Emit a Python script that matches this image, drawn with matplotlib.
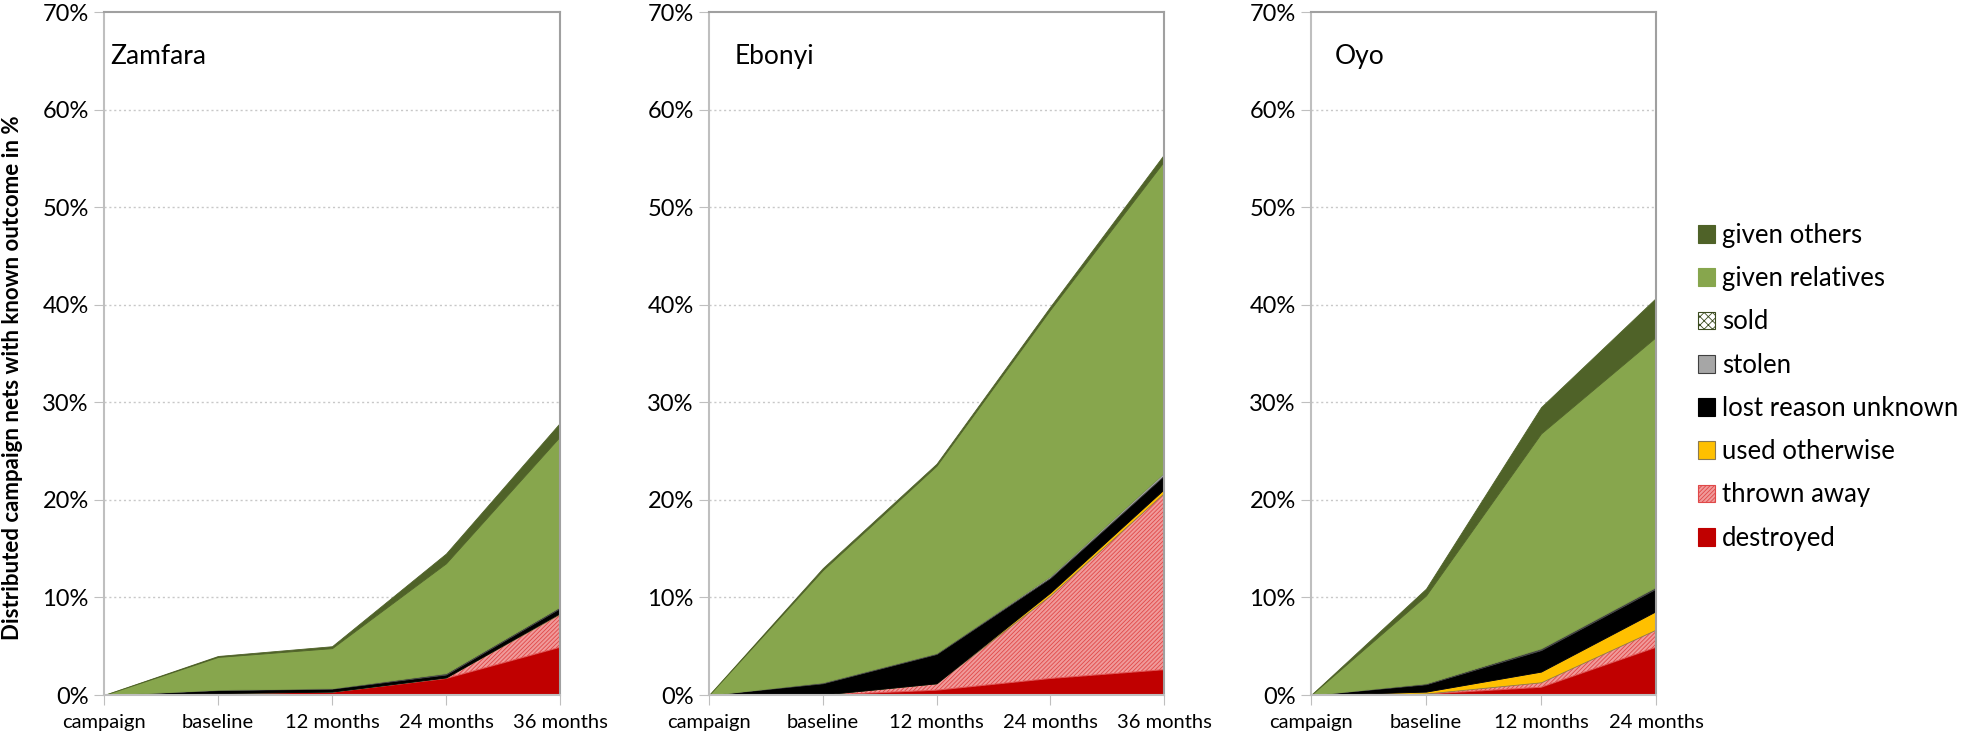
import numpy as np
import matplotlib
matplotlib.use('Agg')
import matplotlib.pyplot as plt
from matplotlib.patches import Patch
from matplotlib.ticker import PercentFormatter

plt.rcParams['font.family'] = ['Lato', 'DejaVu Sans']
plt.rcParams['hatch.linewidth'] = 0.6

# --- Data (share of distributed nets, %) ---
categories = ['campaign', 'baseline', '12 months', '24 months', '36 months']
regions = ['Zamfara', 'Ebonyi', 'Oyo']
layers = ['destroyed', 'thrown away', 'used otherwise', 'lost reason unknown',
          'stolen', 'sold', 'given relatives', 'given others']

# values per layer (not stacked), one entry per survey round
zamfara = {
    'destroyed':           [0, 0.2, 0.3, 1.7, 4.9],
    'thrown away':         [0, 0.0, 0.05, 0.1, 3.4],
    'used otherwise':      [0, 0.0, 0.0, 0.0, 0.1],
    'lost reason unknown': [0, 0.3, 0.3, 0.3, 0.5],
    'stolen':              [0, 0.05, 0.05, 0.1, 0.1],
    'sold':                [0, 0.0, 0.0, 0.05, 0.05],
    'given relatives':     [0, 3.35, 4.1, 11.25, 17.45],
    'given others':        [0, 0.1, 0.2, 1.0, 1.4],
}
ebonyi = {
    'destroyed':           [0, 0.0, 0.5, 1.7, 2.6],
    'thrown away':         [0, 0.05, 0.7, 8.5, 18.1],
    'used otherwise':      [0, 0.0, 0.0, 0.3, 0.4],
    'lost reason unknown': [0, 1.15, 3.0, 1.5, 1.4],
    'stolen':              [0, 0.1, 0.1, 0.2, 0.3],
    'sold':                [0, 0.0, 0.0, 0.0, 0.0],
    'given relatives':     [0, 11.5, 19.2, 27.3, 31.9],
    'given others':        [0, 0.2, 0.2, 0.3, 0.7],
}
oyo = {
    'destroyed':           [0, 0.1, 0.8, 4.9],
    'thrown away':         [0, 0.05, 0.5, 1.8],
    'used otherwise':      [0, 0.2, 1.1, 1.9],
    'lost reason unknown': [0, 0.75, 2.2, 2.3],
    'stolen':              [0, 0.05, 0.1, 0.1],
    'sold':                [0, 0.05, 0.1, 0.1],
    'given relatives':     [0, 9.0, 22.0, 25.6],
    'given others':        [0, 0.7, 2.7, 4.0],
}
region_data = [zamfara, ebonyi, oyo]

# --- Styles ---
STYLE = {
    'destroyed':           dict(facecolor='#C00000', edgecolor='#C00000', hatch=None),
    'thrown away':         dict(facecolor='#F09A9A', edgecolor='#E04848', hatch='////////'),
    'used otherwise':      dict(facecolor='#FFC000', edgecolor='#8C7A50', hatch=None),
    'lost reason unknown': dict(facecolor='#000000', edgecolor='#000000', hatch=None),
    'stolen':              dict(facecolor='#A6A6A6', edgecolor='#404040', hatch=None),
    'sold':                dict(facecolor='#FFFFFF', edgecolor='#3A4A1E', hatch='xxxx'),
    'given relatives':     dict(facecolor='#87A64D', edgecolor='#87A64D', hatch=None),
    'given others':        dict(facecolor='#4F6228', edgecolor='#4F6228', hatch=None),
}

W, H = 1961, 735
# axes boxes in pixels: left, right
AX_PX = [(104, 560), (709, 1164), (1311, 1656)]
AX_BOTTOM, AX_TOP = 695, 12
LABEL_OFFSET = [6, 26, 24]

fig = plt.figure(figsize=(W / 100, H / 100), dpi=100)

for i, (name, data) in enumerate(zip(regions, region_data)):
    left, right = AX_PX[i]
    ax = fig.add_axes([left / W, 1 - AX_BOTTOM / H, (right - left) / W,
                       (AX_BOTTOM - AX_TOP) / H])
    n = len(data['destroyed'])
    x = np.arange(n)
    base = np.zeros(n)
    for layer in layers:
        vals = np.array(data[layer], dtype=float)
        st = STYLE[layer]
        ax.fill_between(x, base, base + vals, facecolor=st['facecolor'],
                        edgecolor=st['edgecolor'], hatch=st['hatch'],
                        linewidth=0.6, zorder=2)
        base = base + vals

    ax.set_xlim(0, n - 1)
    ax.set_ylim(0, 70)
    ax.set_xticks(x)
    ax.set_xticklabels(categories[:n], fontsize=14.5)
    ax.set_yticks(np.arange(0, 71, 10))
    ax.yaxis.set_major_formatter(PercentFormatter(decimals=0))
    ax.tick_params(axis='y', labelsize=17, length=7, color='#BFBFBF', pad=4)
    ax.tick_params(axis='x', length=7, color='#BFBFBF', pad=7)
    for y in range(10, 70, 10):
        ax.axhline(y, color='#C8C8C8', linestyle=(0, (1.5, 2)), linewidth=1.0, zorder=1)
    for side in ['left', 'bottom']:
        ax.spines[side].set_color('#BFBFBF')
        ax.spines[side].set_linewidth(1.5)
    for side in ['top', 'right']:
        ax.spines[side].set_color('#A0A0A0')
        ax.spines[side].set_linewidth(1.5)
    ax.text(LABEL_OFFSET[i] / (right - left), 0.935, name, transform=ax.transAxes,
            fontsize=19, ha='left', va='center')

fig.text(13 / W, 1 - 378 / H, 'Distributed campaign nets with known outcome in %',
         rotation=90, fontsize=16, fontweight='bold', ha='center', va='center')

handles = [Patch(facecolor=STYLE[l]['facecolor'], edgecolor=STYLE[l]['edgecolor'],
                 hatch=STYLE[l]['hatch'], linewidth=0.8, label=l)
           for l in reversed(layers)]
fig.legend(handles=handles, loc='upper left', bbox_to_anchor=(1698 / W, 1 - 223 / H),
           frameon=False, fontsize=18.5, handlelength=0.68, handleheight=0.68,
           handletextpad=0.25, labelspacing=0.71, borderpad=0, borderaxespad=0)

fig.savefig('out.png', dpi=100)
